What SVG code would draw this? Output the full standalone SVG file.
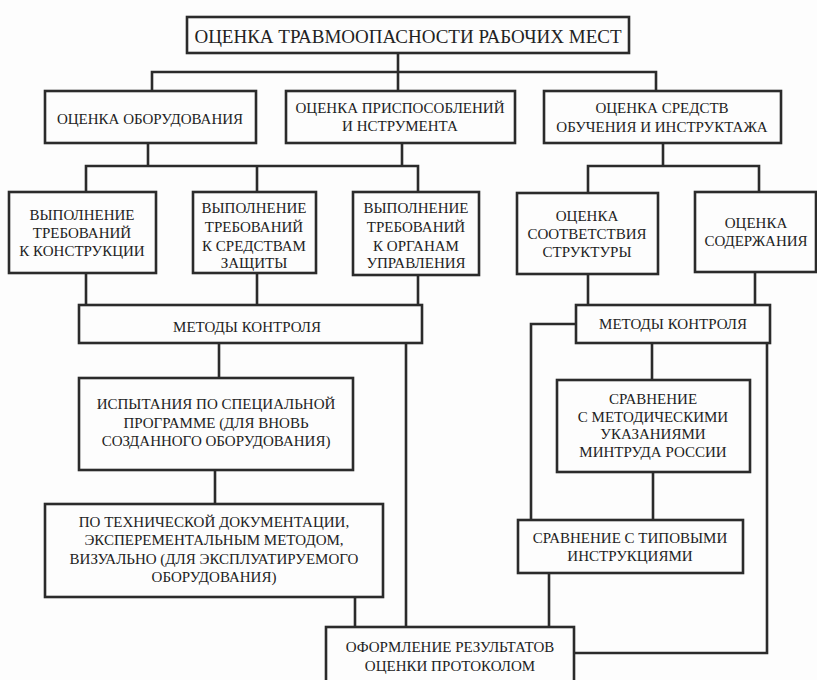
<svg xmlns="http://www.w3.org/2000/svg" width="817" height="680" viewBox="0 0 817 680">
<style>
.b{fill:#fdfdfd;stroke:#2b2b2b;stroke-width:2.6}
.c{fill:none;stroke:#2b2b2b;stroke-width:2.6}
text{font-family:"Liberation Serif","DejaVu Serif","Noto Serif",serif;font-size:15px;fill:#222;text-anchor:middle}
.t{font-size:19px}
</style>
<rect width="817" height="680" fill="#fdfdfd"/>
<g id="connectors" class="c">
<path d="M398 53V91M152 91V72H656V91"/>
<path d="M148 143V166M86 192V166H418V192M402 143V166M257 166V192"/>
<path d="M663 143V166M588 193V166H759V192"/>
<path d="M86 273V305M257 273V305M418 275V305"/>
<path d="M588 274V305M755 272V305"/>
<path d="M219 343V378M215 470V504M355 597V627M406 343V627"/>
<path d="M576 324H531V520M652 343V380M653 472V520M549 573V627M767 343V653H574"/>
</g>
<g id="n1"><rect class="b" x="187" y="17" width="442" height="36"/><text class="t" x="408" y="43">ОЦЕНКА ТРАВМООПАСНОСТИ РАБОЧИХ МЕСТ</text></g>
<g id="n2"><rect class="b" x="45" y="91" width="211" height="52"/><text x="150" y="124">ОЦЕНКА ОБОРУДОВАНИЯ</text></g>
<g id="n3"><rect class="b" x="286" y="91" width="229" height="52"/><text x="400" y="113">ОЦЕНКА ПРИСПОСОБЛЕНИЙ</text><text x="400" y="131">И НСТРУМЕНТА</text></g>
<g id="n4"><rect class="b" x="544" y="91" width="237" height="52"/><text x="662" y="113">ОЦЕНКА СРЕДСТВ</text><text x="662" y="132">ОБУЧЕНИЯ И ИНСТРУКТАЖА</text></g>
<g id="n5"><rect class="b" x="9" y="192" width="147" height="81"/><text x="82" y="220">ВЫПОЛНЕНИЕ</text><text x="82" y="238">ТРЕБОВАНИЙ</text><text x="82" y="256">К КОНСТРУКЦИИ</text></g>
<g id="n6"><rect class="b" x="193" y="192" width="123" height="81"/><text x="254" y="213">ВЫПОЛНЕНИЕ</text><text x="254" y="232">ТРЕБОВАНИЙ</text><text x="254" y="251">К СРЕДСТВАМ</text><text x="254" y="268">ЗАЩИТЫ</text></g>
<g id="n7"><rect class="b" x="353" y="192" width="126" height="83"/><text x="416" y="213">ВЫПОЛНЕНИЕ</text><text x="416" y="232">ТРЕБОВАНИЙ</text><text x="416" y="251">К ОРГАНАМ</text><text x="416" y="268">УПРАВЛЕНИЯ</text></g>
<g id="n8"><rect class="b" x="517" y="193" width="141" height="81"/><text x="587" y="221">ОЦЕНКА</text><text x="587" y="239">СООТВЕТСТВИЯ</text><text x="587" y="257">СТРУКТУРЫ</text></g>
<g id="n9"><rect class="b" x="695" y="192" width="121" height="80"/><text x="756" y="228">ОЦЕНКА</text><text x="756" y="246">СОДЕРЖАНИЯ</text></g>
<g id="n10"><rect class="b" x="79" y="305" width="343" height="38"/><text x="247" y="332">МЕТОДЫ КОНТРОЛЯ</text></g>
<g id="n11"><rect class="b" x="576" y="305" width="194" height="38"/><text x="673" y="329">МЕТОДЫ КОНТРОЛЯ</text></g>
<g id="n12"><rect class="b" x="79" y="378" width="274" height="92"/><text x="216" y="409">ИСПЫТАНИЯ ПО СПЕЦИАЛЬНОЙ</text><text x="216" y="428">ПРОГРАММЕ (ДЛЯ ВНОВЬ</text><text x="216" y="446">СОЗДАННОГО ОБОРУДОВАНИЯ)</text></g>
<g id="n13"><rect class="b" x="45" y="504" width="338" height="93"/><text x="214" y="527">ПО ТЕХНИЧЕСКОЙ ДОКУМЕНТАЦИИ,</text><text x="214" y="545">ЭКСПЕРЕМЕНТАЛЬНЫМ МЕТОДОМ,</text><text x="214" y="564">ВИЗУАЛЬНО (ДЛЯ ЭКСПЛУАТИРУЕМОГО</text><text x="214" y="582">ОБОРУДОВАНИЯ)</text></g>
<g id="n14"><rect class="b" x="557" y="380" width="193" height="92"/><text x="653" y="404">СРАВНЕНИЕ</text><text x="653" y="422">С МЕТОДИЧЕСКИМИ</text><text x="653" y="439">УКАЗАНИЯМИ</text><text x="653" y="457">МИНТРУДА РОССИИ</text></g>
<g id="n15"><rect class="b" x="518" y="520" width="225" height="53"/><text x="630" y="543">СРАВНЕНИЕ С ТИПОВЫМИ</text><text x="630" y="561">ИНСТРУКЦИЯМИ</text></g>
<g id="n16"><rect class="b" x="326" y="627" width="248" height="60"/><text x="450" y="652">ОФОРМЛЕНИЕ РЕЗУЛЬТАТОВ</text><text x="450" y="671">ОЦЕНКИ ПРОТОКОЛОМ</text></g>
</svg>
